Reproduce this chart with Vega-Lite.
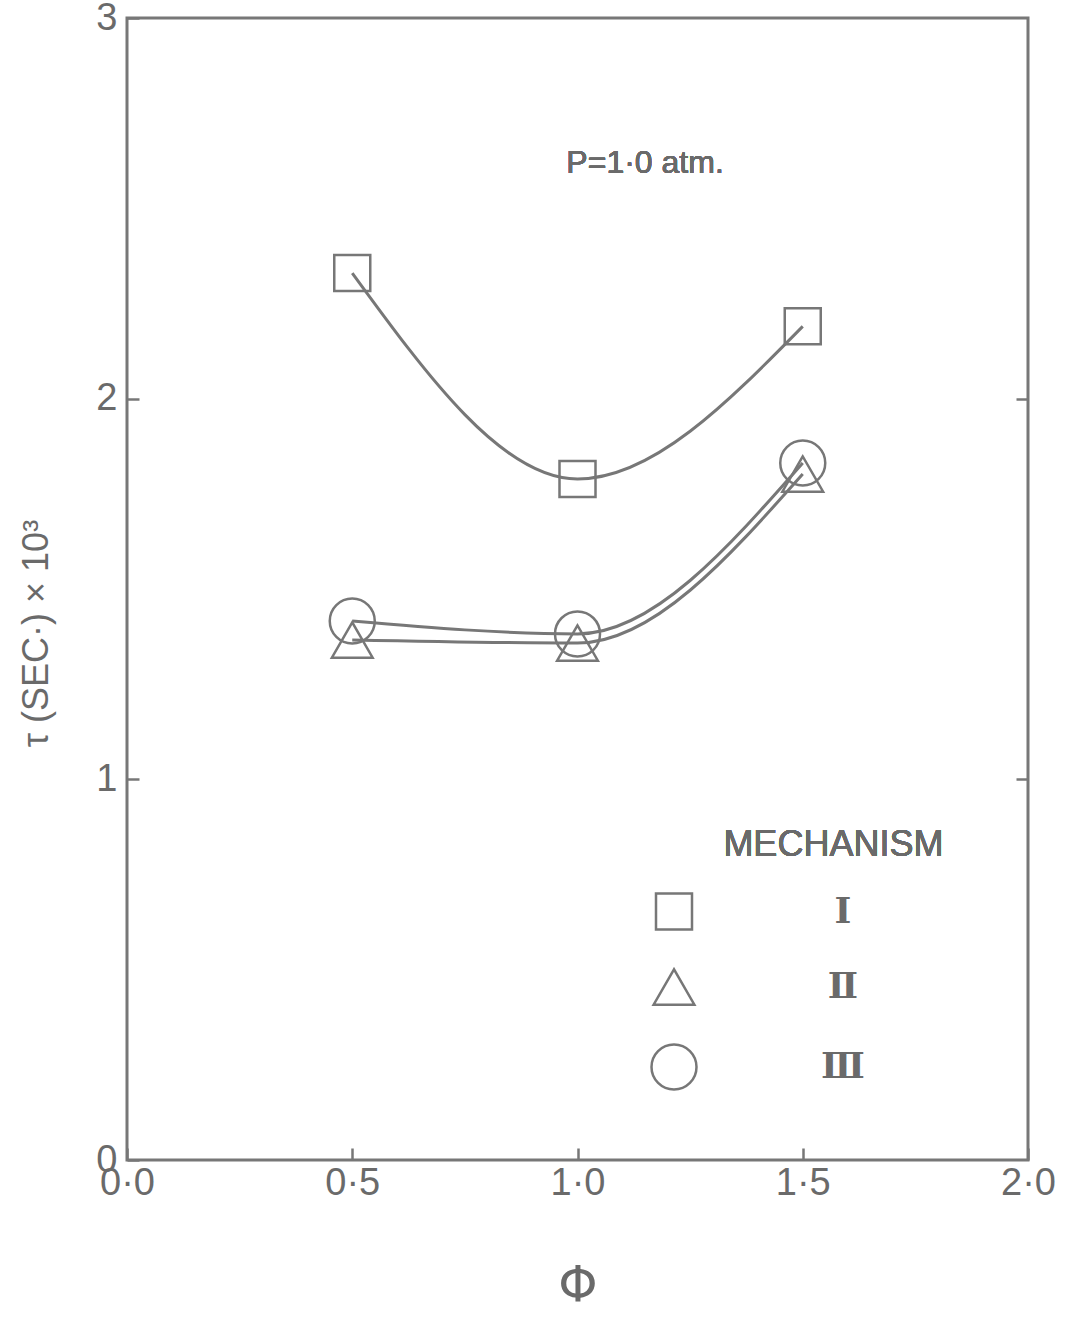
{
  "$schema": "https://vega.github.io/schema/vega-lite/v6.json",
  "width": 901,
  "height": 1142,
  "autosize": {"type": "none"},
  "padding": {"left": 127, "top": 18, "right": 39, "bottom": 161},
  "background": "white",
  "config": {
    "view": {"stroke": "#777777", "strokeWidth": 3},
    "font": "Liberation Sans",
    "axis": {
      "domain": false,
      "grid": false,
      "labelFlush": false,
      "labelOverlap": false,
      "tickColor": "#777777",
      "tickWidth": 2.5,
      "tickSize": -12,
      "labelColor": "#6a6a6a",
      "labelFont": "Liberation Sans Narrow, Liberation Sans",
      "labelFontSize": 38,
      "titleColor": "#6a6a6a"
    }
  },
  "datasets": {
    "delay": [
      {"phi": 0.5, "tau": 2.33, "mechanism": "I"},
      {"phi": 1.0, "tau": 1.789, "mechanism": "I"},
      {"phi": 1.5, "tau": 2.19, "mechanism": "I"},
      {"phi": 0.5, "tau": 1.366, "mechanism": "II"},
      {"phi": 1.0, "tau": 1.358, "mechanism": "II"},
      {"phi": 1.5, "tau": 1.802, "mechanism": "II"},
      {"phi": 0.5, "tau": 1.416, "mechanism": "III"},
      {"phi": 1.0, "tau": 1.382, "mechanism": "III"},
      {"phi": 1.5, "tau": 1.831, "mechanism": "III"}
    ]
  },
  "data": {"name": "delay"},
  "layer": [
    {
      "mark": {"type": "line", "interpolate": "monotone", "color": "#777777", "strokeWidth": 3},
      "encoding": {
        "x": {
          "field": "phi",
          "type": "quantitative",
          "scale": {"domain": [0, 2], "nice": false, "zero": false},
          "axis": {
            "values": [0, 0.5, 1, 1.5, 2],
            "labelExpr": "replace(format(datum.value, '.1f'), '.', '·')",
            "labelPadding": 16,
            "title": "Φ",
            "titleFont": "DejaVu Sans",
            "titleFontSize": 50,
            "titleFontWeight": "normal",
            "titlePadding": 58
          }
        },
        "y": {
          "field": "tau",
          "type": "quantitative",
          "scale": {"domain": [0, 3], "nice": false, "zero": false},
          "axis": {
            "values": [0, 1, 2, 3],
            "labelPadding": 22,
            "title": "τ (SEC·) × 10³",
            "titleFont": "Liberation Sans",
            "titleFontSize": 36,
            "titleFontWeight": "normal",
            "titleX": -72,
            "titleY": 615
          }
        },
        "detail": {"field": "mechanism", "type": "nominal"}
      }
    },
    {
      "mark": {"type": "point", "filled": false, "strokeWidth": 2.5, "color": "#777777", "opacity": 1},
      "encoding": {
        "x": {"field": "phi", "type": "quantitative"},
        "y": {
          "field": "tau",
          "type": "quantitative",
          "axis": {"orient": "right", "values": [1, 2], "labels": false, "title": null, "tickSize": -12}
        },
        "shape": {
          "field": "mechanism",
          "type": "nominal",
          "scale": {"domain": ["I", "II", "III"], "range": ["square", "triangle-up", "circle"]},
          "legend": {
            "orient": "none",
            "legendX": 523,
            "legendY": 874,
            "title": null,
            "padding": 0,
            "labelAlign": "center",
            "labelOffset": 145,
            "labelExpr": "datum.label == 'I' ? 'Ⅰ' : datum.label == 'II' ? 'Ⅱ' : 'Ⅲ'",
            "labelFont": "DejaVu Serif",
            "labelFontSize": 36,
            "labelFontWeight": "bold",
            "labelColor": "#6a6a6a",
            "rowPadding": 29,
            "symbolStrokeWidth": 2.5,
            "symbolStrokeColor": "#777777",
            "symbolFillColor": "white",
            "symbolOpacity": 1
          }
        },
        "size": {
          "field": "mechanism",
          "type": "nominal",
          "scale": {"domain": ["I", "II", "III"], "range": [1296, 2025, 1296]}
        }
      }
    },
    {
      "mark": {"type": "text", "text": "P=1·0 atm.", "fontSize": 32, "font": "Liberation Sans", "color": "#6a6a6a"},
      "encoding": {
        "x": {"datum": 1.15, "type": "quantitative"},
        "y": {"datum": 2.62, "type": "quantitative", "axis": null}
      }
    },
    {
      "mark": {"type": "text", "text": "MECHANISM", "fontSize": 36, "font": "Liberation Sans", "color": "#6a6a6a"},
      "encoding": {
        "x": {"datum": 1.568, "type": "quantitative"},
        "y": {"datum": 0.827, "type": "quantitative", "axis": null}
      }
    }
  ],
  "resolve": {"axis": {"y": "independent"}}
}
